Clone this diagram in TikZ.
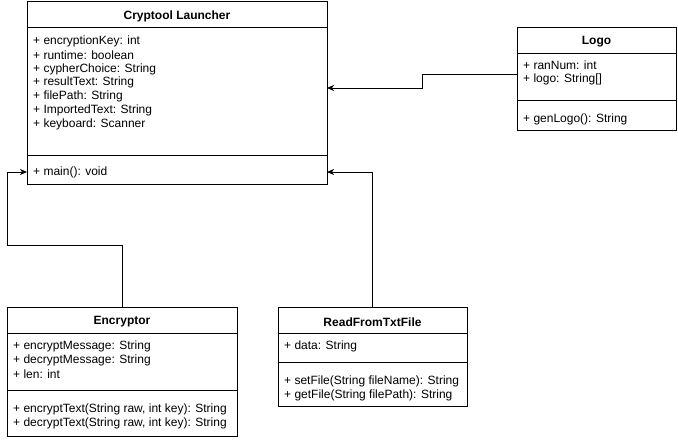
\documentclass[tikz,border=0pt]{standalone}
\usepackage{fontspec}
\setmainfont{Liberation Sans}
\usetikzlibrary{arrows.meta}
\begin{document}
\begin{tikzpicture}[x=1pt,y=-1pt,
  box/.style={draw,line width=0.9pt},
  sep/.style={line width=0.9pt},
  ttl/.style={font=\fontsize{12}{14}\selectfont\bfseries,inner sep=0pt,yshift=-1pt},
  txt/.style={font=\fontsize{12}{14}\selectfont,inner sep=0pt,anchor=west,yshift=-1.5pt},
  conn/.style={line width=0.9pt,-{Stealth[length=7pt,width=6pt,inset=2pt]}}]
\useasboundingbox (0,0) rectangle (678,440);
% Cryptool Launcher
\draw[box] (27,1) rectangle (327,184);
\coordinate (cl-l) at (27,172);
\coordinate (cl-r1) at (327,88);
\coordinate (cl-r2) at (327,172);
\draw[sep] (27,27) -- (327,27);
\draw[sep] (27,155) -- (327,155);
\node[ttl] (clt) at (177,15) {Cryptool Launcher};
\node[txt] (cl1) at (33,40) {+ encryptionKey: int};
\node[txt] (cl2) at (33,54) {+ runtime: boolean};
\node[txt] (cl3) at (33,68) {+ cypherChoice: String};
\node[txt] (cl4) at (33,81) {+ resultText: String};
\node[txt] (cl5) at (33,95) {+ filePath: String};
\node[txt] (cl6) at (33,109) {+ ImportedText: String};
\node[txt] (cl7) at (33,123) {+ keyboard: Scanner};
\node[txt] (cl8) at (33,171) {+ main(): void};
% Logo
\draw[box] (517,27) rectangle (676,130);
\draw[sep] (517,53) -- (676,53);
\draw[sep] (517,100) -- (676,100);
\coordinate (lg-l) at (517,74);
\node[ttl] (lgt) at (596.5,41) {Logo};
\node[txt] (lg1) at (523,64) {+ ranNum: int};
\node[txt] (lg2) at (523,78) {+ logo: String[]};
\node[txt] (lg3) at (523,118) {+ genLogo(): String};
% Encryptor
\draw[box] (7,307) rectangle (237,436);
\draw[sep] (7,333) -- (237,333);
\draw[sep] (7,390) -- (237,390);
\coordinate (en-t) at (122,307);
\node[ttl] (ent) at (122,321) {Encryptor};
\node[txt] (en1) at (13,345) {+ encryptMessage: String};
\node[txt] (en2) at (13,359) {+ decryptMessage: String};
\node[txt] (en3) at (13,373) {+ len: int};
\node[txt] (en4) at (13,408) {+ encryptText(String raw, int key): String};
\node[txt] (en5) at (13,422) {+ decryptText(String raw, int key): String};
% ReadFromTxtFile
\draw[box] (278,307) rectangle (467,406);
\draw[sep] (278,333) -- (467,333);
\draw[sep] (278,362) -- (467,362);
\coordinate (rf-t) at (372,307);
\node[ttl] (rft) at (372.5,321) {ReadFromTxtFile};
\node[txt] (rf1) at (284,345) {+ data: String};
\node[txt] (rf2) at (284,380) {+ setFile(String fileName): String};
\node[txt] (rf3) at (284,394) {+ getFile(String filePath): String};
% connectors
\draw[conn] (lg-l) -- (422,74) -- (422,88) -- (cl-r1);
\draw[conn] (en-t) -- (122,245) -- (7.5,245) -- (7.5,172) -- (cl-l);
\draw[conn] (rf-t) -- (372,172) -- (cl-r2);
\end{tikzpicture}
\end{document}
